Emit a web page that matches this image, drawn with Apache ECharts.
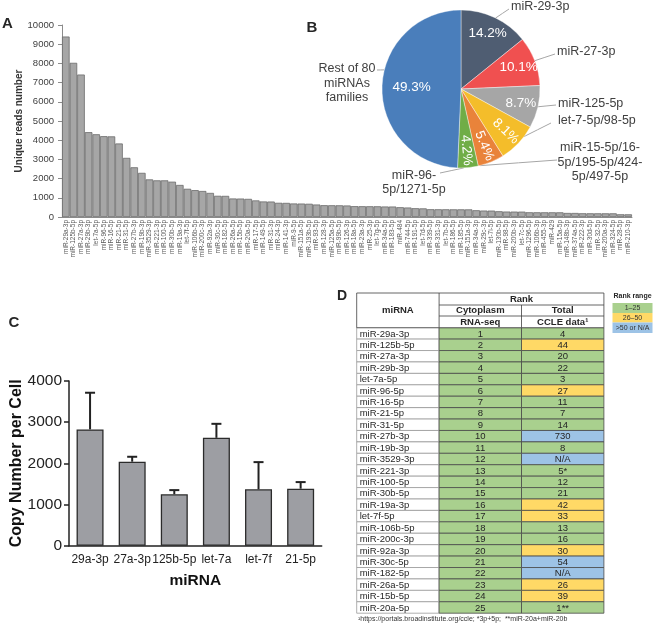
<!DOCTYPE html>
<html><head><meta charset="utf-8">
<script src="https://cdn.jsdelivr.net/npm/echarts@6/dist/echarts.min.js"></script>
<style>html,body{margin:0;padding:0;background:#fff}#c{width:654px;height:626px}</style>
</head><body><div id="c"></div>
<script>
// ---------- Panel A data ----------
const readNames = ['miR-29a-3p','miR-125b-5p','miR-27a-3p','miR-29b-3p','let-7a-5p','miR-96-5p','miR-16-5p','miR-21-5p','miR-31-5p','miR-27b-3p','miR-19b-3p','miR-3529-3p','miR-221-3p','miR-100-5p','miR-30b-5p','miR-19a-3p','let-7f-5p','miR-106b-5p','miR-200c-3p','miR-92a-3p','miR-30c-5p','miR-182-5p','miR-26a-5p','miR-15b-5p','miR-20a-5p','miR-17-5p','miR-149-5p','miR-31-3p','miR-24-3p','miR-141-3p','miR-9-5p','miR-151a-5p','miR-193b-5p','miR-93-5p','miR-128-3p','miR-125a-5p','miR-99b-5p','miR-126-3p','miR-18a-5p','miR-23a-3p','miR-25-3p','let-7g-5p','miR-34a-5p','miR-183-5p','miR-484','miR-744-5p','miR-191-5p','let-7d-5p','miR-339-5p','miR-331-3p','let-7b-5p','miR-186-5p','miR-185-5p','miR-151a-3p','miR-34a-3p','miR-29c-3p','let-7i-5p','miR-130b-5p','miR-98-5p','miR-200b-3p','let-7c-5p','miR-1296-5p','miR-106b-3p','miR-455-3p','miR-429','miR-15a-5p','miR-148b-3p','miR-374a-5p','miR-222-3p','miR-30d-5p','miR-32-5p','miR-200a-3p','miR-324-5p','miR-28-5p','miR-210-3p'];
const readCounts = [9400,8030,7420,4420,4310,4210,4200,3830,3080,2590,2300,1960,1910,1910,1840,1670,1470,1400,1355,1255,1105,1100,965,960,945,865,810,805,740,735,705,700,690,650,615,612,610,600,565,562,560,558,547,545,510,494,458,450,405,403,402,400,400,398,352,335,333,300,283,282,280,247,246,245,245,244,211,210,195,194,193,192,192,142,140];

// ---------- Panel B data ----------
const pieNames = ['miR-29-3p','miR-27-3p','miR-125-5p','let-7-5p/98-5p','miR-15-5p/16-\n5p/195-5p/424-\n5p/497-5p','miR-96-\n5p/1271-5p','Rest of 80\nmiRNAs\nfamilies'];
const piePercents = [14.2,10.1,8.7,8.1,5.4,4.2,49.3];

// ---------- Panel C data ----------
const copyCategories = ['29a-3p','27a-3p','125b-5p','let-7a','let-7f','21-5p'];
const copyMeans = [2825,2040,1250,2620,1370,1385];
const copyErrors = [890,120,100,340,660,160];

// ---------- Panel D data ----------
const tableMirnas = ['miR-29a-3p','miR-125b-5p','miR-27a-3p','miR-29b-3p','let-7a-5p','miR-96-5p','miR-16-5p','miR-21-5p','miR-31-5p','miR-27b-3p','miR-19b-3p','miR-3529-3p','miR-221-3p','miR-100-5p','miR-30b-5p','miR-19a-3p','let-7f-5p','miR-106b-5p','miR-200c-3p','miR-92a-3p','miR-30c-5p','miR-182-5p','miR-26a-5p','miR-15b-5p','miR-20a-5p'];
const tableCytoRank = ['1','2','3','4','5','6','7','8','9','10','11','12','13','14','15','16','17','18','19','20','21','22','23','24','25'];
const tableTotalRank = ['4','44','20','22','3','27','11','7','14','730','8','N/A','5*','12','21','42','33','13','16','30','54','N/A','26','39','1**'];
const tableColumns = ['miRNA','Cytoplasm','Total'];

// ---------- styles ----------
const FONT = '"Liberation Sans", Arial, sans-serif';
const pieColors = ['#4f5d72','#f05050','#a6a6a6','#f4bd2a','#e9833a','#70ad47','#4a7ebb'];
const rankColors = {g:'#a9d08e', y:'#ffd966', b:'#9dc3e6'};
function rankClass(t){ const v = parseInt(t,10); if (isNaN(v) || v > 50) return 'b'; if (v > 25) return 'y'; return 'g'; }
const plain = v => String(v);

const pieCenter = [461, 89], pieR = 79;
// outer label anchors: [x, y, align, leader start angle (deg), leader end x, leader end y]
const pieLabelAnchor = [
  [511, 7, 'left', 64, 509, 9],
  [557, 52, 'left', 21, 555, 54],
  [558, 104, 'left', -13, 556, 105],
  [558, 121, 'left', -37, 551, 123],
  [600, 162.5, 'center', -76, 557, 160],
  [414, 182.5, 'center', -88, 440, 173],
  [347, 83.5, 'center', 166, 377, 70]
];

// table geometry
const TX0 = 356.7, CW = 82.4, TDATA = 327.7, RH = 11.42, THEAD = 293;

const tableCells = [];
for (let r = 0; r < tableMirnas.length; r++) {
  tableCells.push({value:[0, r], text: tableMirnas[r]});
  tableCells.push({value:[1, r], text: tableCytoRank[r]});
  tableCells.push({value:[2, r], text: tableTotalRank[r]});
}

const chart = echarts.init(document.getElementById('c'), null, {renderer:'canvas'});

function hline(x1, x2, y, c){ return {type:'line', shape:{x1:x1, y1:y, x2:x2, y2:y}, style:{stroke:c||'#404040', lineWidth:0.8}, z:10}; }
function vline(x, y1, y2, c){ return {type:'line', shape:{x1:x, y1:y1, x2:x, y2:y2}, style:{stroke:c||'#404040', lineWidth:0.8}, z:10}; }
function txt(t, x, y, size, bold, align, color){ return {type:'text', x:x, y:y, style:{text:t, font:(bold?'bold ':'')+size+'px '+FONT, fill:color||'#262626', align:align||'center', verticalAlign:'middle'}, z:11}; }

const graphics = [
  txt('A', 7.5, 24, 15, true), txt('B', 312, 27.5, 15, true), txt('C', 14, 323, 15, true), txt('D', 342, 296, 14, true),
  // table header
  {type:'rect', shape:{x:TX0, y:THEAD, width:3*CW, height:TDATA-THEAD}, style:{fill:'#fff', stroke:'#404040', lineWidth:0.8}, z:9},
  vline(TX0+CW, THEAD, TDATA), vline(TX0+2*CW, 305, TDATA),
  hline(TX0+CW, TX0+3*CW, 305), hline(TX0+CW, TX0+3*CW, 316),
  txt('miRNA', TX0+CW/2, 310.5, 9.5, true),
  txt('Rank', TX0+2*CW, 299, 9.5, true),
  txt('Cytoplasm', TX0+1.5*CW, 310.5, 9.5, true),
  txt('Total', TX0+2.5*CW, 310.5, 9.5, true),
  txt('RNA-seq', TX0+1.5*CW, 322, 9.5, true),
  txt('CCLE data¹', TX0+2.5*CW, 322, 9.5, true),
  txt('¹https://portals.broadinstitute.org/ccle; *3p+5p;  **miR-20a+miR-20b', 358, 619, 7, false, 'left', '#333'),
  // rank legend
  txt('Rank range', 632.5, 296, 7, true),
  {type:'rect', shape:{x:612.5, y:303, width:40, height:10}, style:{fill:rankColors.g}, z:9},
  {type:'rect', shape:{x:612.5, y:313, width:40, height:9.5}, style:{fill:rankColors.y}, z:9},
  {type:'rect', shape:{x:612.5, y:322.5, width:40, height:10.5}, style:{fill:rankColors.b}, z:9},
  txt('1–25', 632.5, 308, 7, false, 'center', '#333'),
  txt('26–50', 632.5, 317.8, 7, false, 'center', '#333'),
  txt('>50 or N/A', 632.5, 327.8, 7, false, 'center', '#333')
];

const option = {
  animation: false,
  textStyle: {fontFamily: FONT},
  graphic: graphics,
  grid: [
    {left:62, top:25, width:570, height:192},
    {left:69, top:381, width:252.7, height:164.7},
    {left:TX0, top:TDATA, width:3*CW, height:25*RH}
  ],
  xAxis: [
    {type:'category', gridIndex:0, data:readNames,
     axisLine:{lineStyle:{color:'#8c8c8c', width:1}}, axisTick:{show:false},
     axisLabel:{interval:0, rotate:90, fontSize:6.5, color:'#595959', margin:3}},
    {type:'category', gridIndex:1, data:copyCategories, name:'miRNA', nameLocation:'middle', nameGap:27, nameMoveOverlap:false,
     nameTextStyle:{fontSize:15.5, fontWeight:'bold', color:'#111'},
     axisLine:{lineStyle:{color:'#222', width:1.5}}, axisTick:{show:false},
     axisLabel:{interval:0, fontSize:12, color:'#222', margin:8}},
    {type:'category', gridIndex:2, data:tableColumns, show:false}
  ],
  yAxis: [
    {type:'value', gridIndex:0, min:0, max:10000, interval:1000, name:'Unique reads number', nameLocation:'middle', nameGap:38, nameMoveOverlap:false,
     nameTextStyle:{fontSize:10, fontWeight:'bold', color:'#333'},
     axisLine:{show:true, lineStyle:{color:'#8c8c8c'}}, axisTick:{show:true, length:4, lineStyle:{color:'#8c8c8c'}},
     splitLine:{show:false}, axisLabel:{fontSize:9.5, color:'#404040', margin:8, formatter:plain}},
    {type:'value', gridIndex:1, min:0, max:4000, interval:1000, name:'Copy Number per Cell', nameLocation:'middle', nameGap:44, nameMoveOverlap:false,
     nameTextStyle:{fontSize:16, fontWeight:'bold', color:'#111'},
     axisLine:{show:true, lineStyle:{color:'#222', width:1.5}}, axisTick:{show:true, length:5, lineStyle:{color:'#222', width:1.5}},
     splitLine:{show:false}, axisLabel:{fontSize:15.5, color:'#222', margin:7, formatter:plain}},
    {type:'category', gridIndex:2, data:tableMirnas, inverse:true, show:false}
  ],
  series: [
    {type:'bar', xAxisIndex:0, yAxisIndex:0, data:readCounts, barCategoryGap:'0%',
     itemStyle:{color:'#a6a6a6', borderColor:'#6b6b6b', borderWidth:0.8}, z:2},
    {type:'pie', center:pieCenter, radius:pieR, startAngle:90, avoidLabelOverlap:false, silent:true, z:5,
     data: pieNames.map((n,i)=>({name:n, value:piePercents[i], itemStyle:{color:pieColors[i]}})),
     itemStyle:{borderColor:'#fff', borderWidth:0.4},
     label:{show:true, position:'outside', formatter:'{b}', fontSize:12.5, lineHeight:14.5, color:'#404040', fontFamily:FONT},
     labelLine:{show:true, length:5, length2:5, smooth:false, lineStyle:{color:'#a6a6a6', width:1}},
     labelLayout: function(p){
       const a = pieLabelAnchor[p.dataIndex];
       const rad = a[3]*Math.PI/180;
       const s = [pieCenter[0]+pieR*Math.cos(rad), pieCenter[1]-pieR*Math.sin(rad)];
       const e = [a[4], a[5]];
       return {x:a[0], y:a[1], align:a[2], verticalAlign:'middle',
               labelLinePoints:[s, [(s[0]+e[0])/2, (s[1]+e[1])/2], e]};
     }},
    {type:'pie', center:pieCenter, radius:[38, pieR], startAngle:90, avoidLabelOverlap:false, silent:true, z:6,
     data: pieNames.map((n,i)=>({name:n, value:piePercents[i],
        label: (i>=3 && i<=5) ? {rotate:'radial'} : {}})),
     itemStyle:{color:'rgba(0,0,0,0)'},
     label:{show:true, position:'inside', formatter:(p)=>piePercents[p.dataIndex].toFixed(1)+'%', fontSize:13.5, color:'#fff', fontFamily:FONT},
     labelLine:{show:false},
     labelLayout: function(p){ return p.dataIndex===6 ? {dx:12} : {}; }},
    {type:'bar', xAxisIndex:1, yAxisIndex:1, data:copyMeans, barWidth:27,
     itemStyle:{color:'#9d9ea3', borderColor:'#2b2b2b', borderWidth:1.3}, z:2},
    {type:'custom', xAxisIndex:1, yAxisIndex:1, z:3,
     data: copyMeans.map((m,i)=>[i, m, m+copyErrors[i]]),
     renderItem: function(params, api){
       const p0 = api.coord([api.value(0), api.value(1)]);
       const p1 = api.coord([api.value(0), api.value(2)]);
       return {type:'group', children:[
         {type:'line', shape:{x1:p0[0], y1:p0[1], x2:p1[0], y2:p1[1]}, style:{stroke:'#222', lineWidth:2}},
         {type:'line', shape:{x1:p1[0]-5, y1:p1[1], x2:p1[0]+5, y2:p1[1]}, style:{stroke:'#222', lineWidth:2}}
       ]};
     }},
    {type:'custom', xAxisIndex:2, yAxisIndex:2, z:4,
     data: tableCells.map(c=>c.value),
     renderItem: function(params, api){
       const c = api.value(0), r = api.value(1);
       const p = api.coord([c, r]);
       const s = api.size([1, 1]);
       const x = p[0]-s[0]/2, y = p[1]-s[1]/2;
       const t = tableCells[params.dataIndex].text;
       const fill = c===0 ? '#fff' : rankColors[rankClass(t)];
       return {type:'group', children:[
         {type:'rect', shape:{x:x, y:y, width:s[0], height:s[1]}, style:{fill:fill, stroke:c===0?'#9a9a9a':'#4a4a4a', lineWidth:0.8}},
         {type:'text', style:{text:t, x:c===0 ? x+3 : p[0], y:p[1]+0.5, align:c===0?'left':'center', verticalAlign:'middle', font:'9.5px '+FONT, fill:'#262626'}}
       ]};
     }}
  ]
};
chart.setOption(option);
</script>
</body></html>
